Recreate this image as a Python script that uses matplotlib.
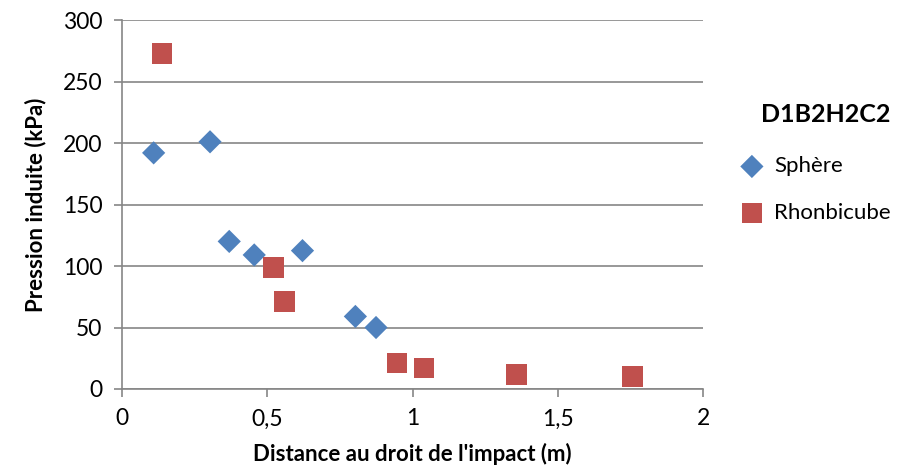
import matplotlib
matplotlib.use("Agg")
import matplotlib.pyplot as plt

# data
sphere_x = [0.109, 0.303, 0.369, 0.455, 0.621, 0.803, 0.874]
sphere_y = [192, 201, 120, 109, 112.5, 59, 50]
rhonbi_x = [0.138, 0.521, 0.560, 0.946, 1.039, 1.357, 1.757]
rhonbi_y = [273, 99, 71, 21, 17, 12, 10]

x_ticks = [0, 0.5, 1, 1.5, 2]
x_labels = ["0", "0,5", "1", "1,5", "2"]
y_ticks = [0, 50, 100, 150, 200, 250, 300]

plt.rcParams['font.family'] = ['Lato', 'DejaVu Sans']

fig = plt.figure(figsize=(9.17, 4.73), dpi=100)
ax = fig.add_axes([0.133, 0.1776, 0.634, 0.780])

grid_col = '#868686'
ax.scatter(sphere_x, sphere_y, marker='D', s=140, color='#4F81BD',
           edgecolors='none', label='Sphère', zorder=3)
ax.scatter(rhonbi_x, rhonbi_y, marker='s', s=220, color='#C0504D',
           edgecolors='none', label='Rhonbicube', zorder=3)

ax.set_xlim(0, 2)
ax.set_ylim(0, 300)
ax.set_xticks(x_ticks)
ax.set_xticklabels(x_labels)
ax.set_yticks(y_ticks)
ax.yaxis.grid(True, color=grid_col, linewidth=1.2)
ax.set_axisbelow(True)

for side in ['top', 'right']:
    ax.spines[side].set_visible(False)
for side in ['left', 'bottom']:
    ax.spines[side].set_color(grid_col)
    ax.spines[side].set_linewidth(1.2)
ax.tick_params(axis='both', direction='out', length=6, color=grid_col,
               width=1.2, labelsize=16.5, pad=8)

ax.set_xlabel("Distance au droit de l'impact (m)", fontsize=16,
              fontweight='bold', labelpad=10)
ax.set_ylabel("Pression induite (kPa)", fontsize=16,
              fontweight='bold', labelpad=12)

leg = ax.legend(loc='upper left', bbox_to_anchor=(1.03, 0.80), frameon=False,
                title='D1B2H2C2', fontsize=16, handletextpad=0.0,
                labelspacing=1.2, alignment='right', borderaxespad=0)
leg.get_title().set_fontweight('bold')
leg.get_title().set_fontsize(18)
leg._legend_box.sep = 22

fig.savefig("out.png", dpi=100)
